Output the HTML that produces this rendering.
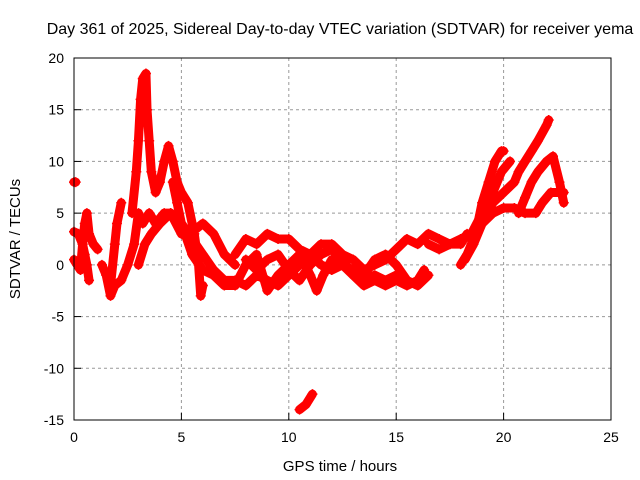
<!DOCTYPE html>
<html><head><meta charset="utf-8"><style>
body{margin:0;background:#fff}
svg{display:block;font-family:"Liberation Sans",sans-serif}
</style></head><body>
<svg id="chart" width="640" height="480">
<text x="340" y="34" font-size="16" text-anchor="middle">Day 361 of 2025, Sidereal Day-to-day VTEC variation (SDTVAR) for receiver yema</text>
<text x="340" y="471" font-size="15" text-anchor="middle">GPS time / hours</text>
<text transform="translate(20,239) rotate(-90)" font-size="15" text-anchor="middle">SDTVAR / TECUs</text>
<g id="grid"></g><g id="marks"></g>
<rect x="74" y="58" width="537" height="362" fill="none" stroke="#000" stroke-width="1"/>
</svg>
<script>
const xTicks=[0,5,10,15,20,25];
const yTicks=[-15,-10,-5,0,5,10,15,20];
const track1=[[0,8],[0.08,8]];
const track2=[[0,3.2],[0.2,3],[0.4,2],[0.5,1],[0.6,0],[0.7,-1.5]];
const track3=[[0,0.5],[0.15,0],[0.3,-0.5],[0.4,2],[0.5,4],[0.6,5],[0.7,3],[0.9,2],[1.1,1.5]];
const track4=[[1.3,0],[1.5,-1],[1.7,-3],[1.9,-2],[2.2,-1.5],[2.5,0],[2.8,2],[3.0,5],[3.2,4],[3.5,5],[3.8,4],[4.2,5],[4.5,5],[5,3],[5.3,3],[5.7,3.5],[6,4],[6.5,3],[7,1],[7.5,0]];
const track5=[[1.7,-2],[1.9,2],[2.0,4],[2.2,6]];
const track6=[[2.7,5],[2.9,9],[3.0,12],[3.1,16],[3.2,18],[3.35,18.5],[3.4,15],[3.5,12],[3.6,9],[3.8,7],[4.0,8],[4.2,10],[4.4,11.5],[4.6,10],[4.8,8],[5.0,7],[5.3,6],[5.6,3],[5.8,0],[5.9,-3],[6.0,-2]];
const track7=[[3.0,0],[3.3,2],[3.6,3],[4.0,4],[4.5,5],[5.0,4],[5.5,2.5],[6.0,1],[6.5,-0.5],[7,-1.5],[7.5,-1.5],[8,-2],[8.5,-1],[9,-1.5],[9.5,-2],[10,-1],[10.5,0],[11,1],[11.5,2],[12,2],[12.5,1],[13,0.5],[13.5,-0.5],[14,0],[14.5,0.5],[15,1.5],[15.5,2.5],[16,2],[16.5,3],[17,2.5],[17.5,2],[18,2],[18.3,3]];
const track8=[[4.6,8],[4.8,6],[5.0,4],[5.5,1],[6,-0.5],[6.5,-1],[7,-2],[7.5,-2],[8,0],[8.5,1],[9,-2.5],[9.5,-1],[10,0],[10.5,1],[11,-1],[11.3,-2.5],[11.6,-1],[12,0.5],[12.5,0],[13,-1],[13.5,-2],[14,-1.5],[14.5,-2],[15,-1.5],[15.5,-2],[16,-1.5],[16.3,-0.5]];
const track9=[[7.5,1],[8,2.5],[8.5,2],[9,3],[9.5,2.5],[10,2.5],[10.5,1.5],[11,1],[11.5,0],[12,-0.5],[12.5,0],[13,-0.5],[13.5,-1],[14,0.5],[14.5,1],[15,0],[15.5,-1.5],[16,-2],[16.5,-1]];
const track10=[[10.5,-14],[10.8,-13.5],[11.1,-12.5]];
const track11=[[18,0],[18.3,1],[18.5,2],[18.8,4],[19,6],[19.3,8],[19.6,10],[19.9,11],[20,11]];
const track12=[[18.2,0.5],[18.6,2],[19,4],[19.5,6],[20,7],[20.5,8],[20.7,9],[21,10],[21.3,11],[21.6,12],[22,13.5],[22.1,14]];
const track13=[[19,4],[19.5,5],[20,5.5],[20.5,5.5],[21,5],[21.5,5],[21.8,6],[22.2,7],[22.6,7],[22.8,7]];
const track14=[[20.7,5],[21,6.5],[21.3,8],[21.6,9],[22,10],[22.3,10.5],[22.6,8],[22.8,6]];
const track15=[[16.5,2],[17,1.5],[17.5,2],[18,2.5],[18.5,3],[19,5],[19.5,7],[19.9,9],[20.3,10]];
const track16=[[8,0.5],[8.5,-0.5],[9,0.5],[9.5,1],[10,-0.5],[10.5,-1.5],[11,0],[11.5,1],[12,1.5],[12.5,0.5],[13,-1],[13.5,-1.5],[14,-1],[14.5,-1.5],[15,-1]];
const tracks=[track1,track2,track3,track4,track5,track6,track7,track8,track9,track10,track11,track12,track13,track14,track15,track16];
const X=h=>74+h*(537/25), Y=v=>420-(v+15)*(362/35);
const NS='http://www.w3.org/2000/svg';
const grid=document.getElementById('grid'), marks=document.getElementById('marks');
function mk(t,a,p){const e=document.createElementNS(NS,t);for(const k in a)e.setAttribute(k,a[k]);p.appendChild(e);return e;}
xTicks.forEach(t=>{
 if(t>0&&t<25){const l=mk('line',{x1:X(t),x2:X(t),y1:58,y2:420,stroke:'#999','stroke-dasharray':'3,3'},grid);
 
 }
 const tk=mk('line',{x1:X(t),x2:X(t),y1:420,y2:413,stroke:'#000'},grid);
 
 
 const tx=mk('text',{x:X(t),y:442,'font-size':14,'text-anchor':'middle'},grid);tx.textContent=t;
 
 
});
yTicks.forEach(t=>{
 if(t>-15&&t<20){const l=mk('line',{x1:74,x2:611,y1:Y(t),y2:Y(t),stroke:'#999','stroke-dasharray':'3,3'},grid);
 
 }
 const tk=mk('line',{x1:74,x2:81,y1:Y(t),y2:Y(t),stroke:'#000'},grid);
 
 
 const tx=mk('text',{x:64,y:Y(t)+5,'font-size':14,'text-anchor':'end'},grid);tx.textContent=t;
 
 
});
tracks.forEach((tr,i)=>{
 const pl=mk('polyline',{points:tr.map(p=>X(p[0])+','+Y(p[1])).join(' '),fill:'none',stroke:'#f00','stroke-width':9,'stroke-linejoin':'round','stroke-linecap':'round'},marks);
 
 
 tr.forEach(p=>{
  const c=mk('path',{d:`M${X(p[0])-5},${Y(p[1])}h10M${X(p[0])},${Y(p[1])-5}v10`,stroke:'#f00','stroke-width':1.5},marks);
  
  
 });
});
</script>
</body></html>
